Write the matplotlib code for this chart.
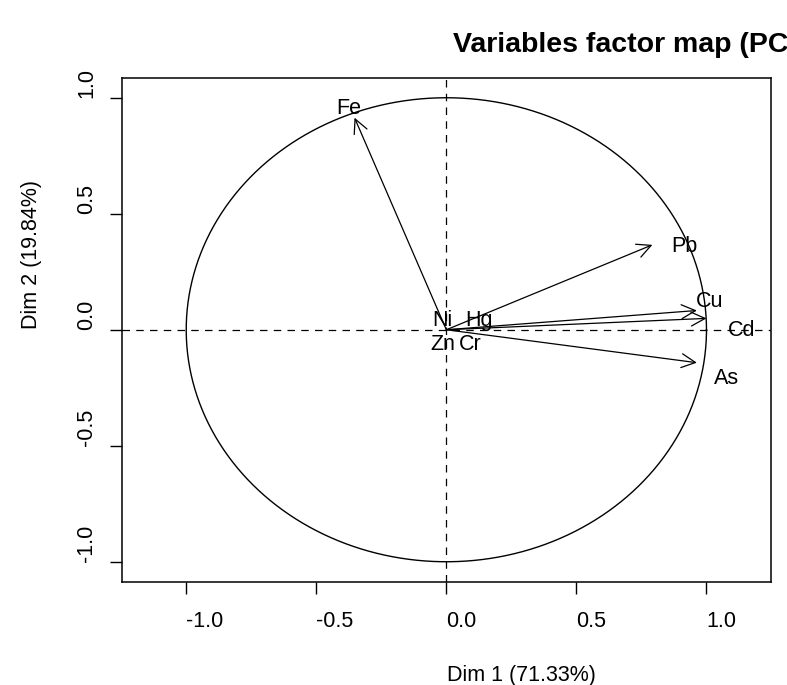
import numpy as np
import matplotlib
matplotlib.use('Agg')
import matplotlib.pyplot as plt

plt.rcParams['font.family'] = ['Liberation Sans', 'DejaVu Sans']

# loadings on the first two dimensions
variables = ['Fe', 'Pb', 'Cu', 'Cd', 'As', 'Hg', 'Ni', 'Zn', 'Cr']
dim1 = [-0.353, 0.792, 0.963, 1.000, 0.963, 0.0, 0.0, 0.0, 0.0]
dim2 = [0.914, 0.366, 0.083, 0.049, -0.142, 0.0, 0.0, 0.0, 0.0]
# where the labels ended up (left edge, middle)
lab_x = [-0.422, 0.865, 0.959, 1.082, 1.028, 0.074, -0.054, -0.062, 0.047]
lab_y = [0.953, 0.358, 0.121, -0.004, -0.211, 0.039, 0.039, -0.065, -0.065]

ticks = [-1.0, -0.5, 0.0, 0.5, 1.0]
tick_labels = ['-1.0', '-0.5', '0.0', '0.5', '1.0']
title = 'Variables factor map (PCA)'
xlab = 'Dim 1 (71.33%)'
ylab = 'Dim 2 (19.84%)'

W, H = 787, 685
fig = plt.figure(figsize=(W / 100, H / 100), dpi=100)
ax = fig.add_axes([121.7 / W, 1 - 581.7 / H, (771 - 121.7) / W, (581.7 - 77.8) / H])
ax.set_xlim(-1.248, 1.248)
ax.set_ylim(-1.086, 1.086)

t = np.linspace(0, 2 * np.pi, 400)
ax.plot(np.cos(t), np.sin(t), color='black', lw=1.0)
ax.axhline(0, color='black', lw=0.9, dashes=(6, 5))
ax.axvline(0, color='black', lw=0.9, dashes=(6, 5))

for i in range(len(variables)):
    if dim1[i] != 0 or dim2[i] != 0:
        ax.annotate('', xy=(dim1[i], dim2[i]), xytext=(0, 0),
                    arrowprops=dict(arrowstyle='->,head_length=1.0,head_width=0.5',
                                    color='black', lw=0.9, shrinkA=0, shrinkB=0))
    ax.text(lab_x[i], lab_y[i], variables[i], ha='left', va='center', fontsize=15.5)

ax.set_xticks(ticks)
ax.set_xticklabels(tick_labels, fontsize=15.5)
ax.set_yticks(ticks)
ax.set_yticklabels(tick_labels, fontsize=15.5, rotation=90)
ax.tick_params(axis='both', direction='out', length=8.4, width=1.0)
ax.tick_params(axis='x', pad=13)
ax.tick_params(axis='y', pad=17)
for lab in ax.get_xticklabels():
    lab.set_ha('left')
for lab in ax.get_yticklabels():
    lab.set_ha('center')
    lab.set_va('bottom')
for s in ax.spines.values():
    s.set_linewidth(1.1)

# R left the centred texts starting at the anchor point, title runs off the edge
fig.text(453 / W, 1 - 45 / H, title, ha='left', va='center',
         fontsize=20.5, fontweight='bold')
fig.text(446.7 / W, 1 - 675 / H, xlab, ha='left', va='center', fontsize=15.5)
fig.text(32 / W, 1 - 329 / H, ylab, ha='center', va='bottom', rotation=90, fontsize=15.5)

fig.savefig('out.png', dpi=100)
